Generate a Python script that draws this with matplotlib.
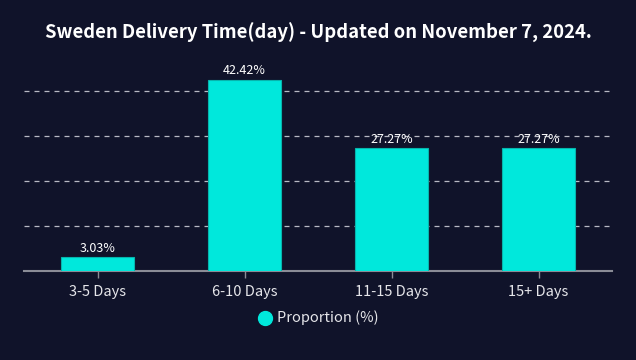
import matplotlib.pyplot as plt
import numpy as np

categories = ['3-5 Days', '6-10 Days', '11-15 Days', '15+ Days']
proportion = [3.03, 42.42, 27.27, 27.27]
bar_labels = ['3.03%', '42.42%', '27.27%', '27.27%']

bg = '#10132a'
cyan = '#00e8dc'

plt.rcParams['font.family'] = ['Noto Sans CJK SC', 'DejaVu Sans']

fig = plt.figure(figsize=(6.36, 3.6), dpi=100, facecolor=bg)
# axes: x 24..612, y 46..271 px
ax = fig.add_axes([24 / 636, 1 - 271 / 360, 588 / 636, 225 / 360])
ax.set_facecolor(bg)

x = np.arange(len(categories))
bars = ax.bar(x, proportion, width=0.5, color=cyan, edgecolor='#06b5ad', linewidth=0.8, zorder=3)
for b, lab in zip(bars, bar_labels):
    ax.text(b.get_x() + b.get_width() / 2, b.get_height() + 0.6, lab,
            ha='center', va='bottom', color='white', fontsize=9, zorder=4)

ax.set_xlim(-0.5, 3.5)
ax.set_ylim(0, 50)
for yv in [10, 20, 30, 40]:
    ax.axhline(yv, color='#b8bac4', linestyle=(0, (4, 4)), linewidth=0.9, zorder=1)

ax.set_yticks([])
ax.set_xticks(x)
ax.set_xticklabels(categories, color='#e6e6ea', fontsize=10.5)
ax.tick_params(axis='x', colors='#8a8c96', labelcolor='#e6e6ea', length=5, width=1, pad=5)
for s in ['top', 'right', 'left']:
    ax.spines[s].set_visible(False)
ax.spines['bottom'].set_color('#8a8c96')
ax.spines['bottom'].set_linewidth(1.5)

fig.text(0.5, 1 - 33 / 360, 'Sweden Delivery Time(day) - Updated on November 7, 2024.',
         ha='center', va='center', color='white', fontsize=13.3, fontweight='bold')

# legend
fig.lines.append(plt.Line2D([265 / 636], [1 - 318 / 360], marker='o', markersize=10,
                            color=cyan, linestyle='none', transform=fig.transFigure))
fig.text(277 / 636, 1 - 318 / 360, 'Proportion (%)', ha='left', va='center',
         color='#e6e6ea', fontsize=10.5)

fig.savefig('out.png', dpi=100, facecolor=bg)
